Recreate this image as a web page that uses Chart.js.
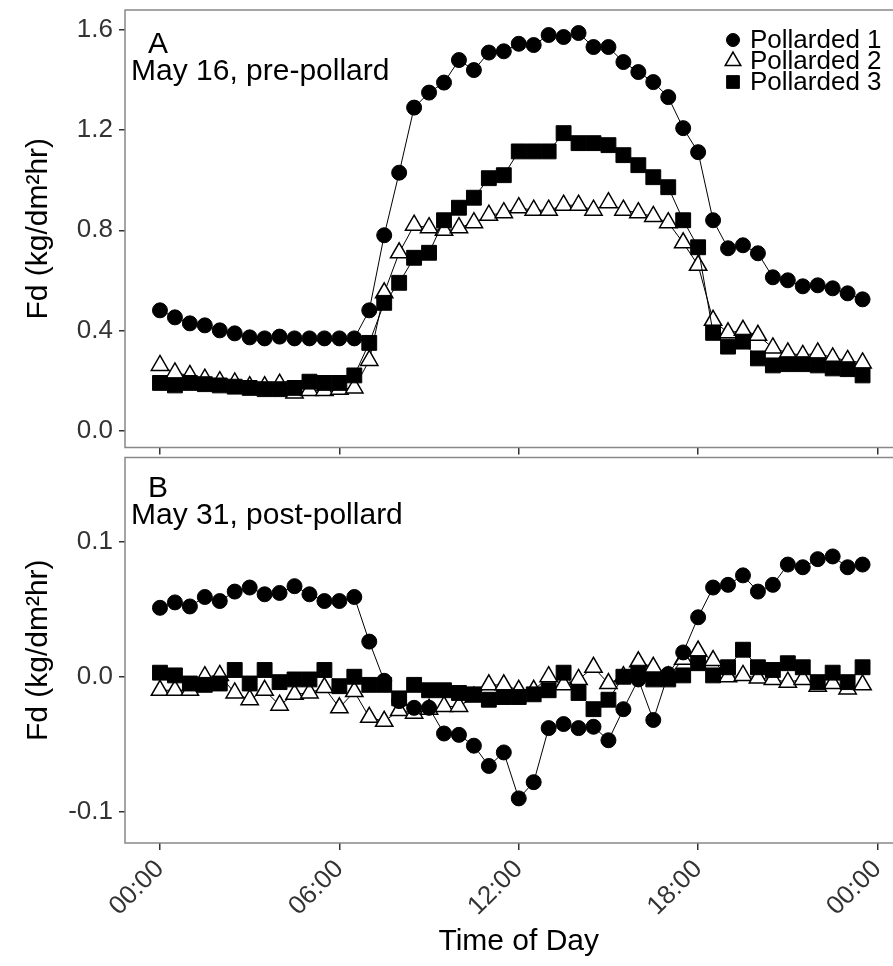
<!DOCTYPE html>
<html>
<head>
<meta charset="utf-8">
<script src="https://cdn.jsdelivr.net/npm/chart.js@4.4.1/dist/chart.umd.min.js"></script>
<style>
html, body { margin: 0; padding: 0; background: #fff; overflow: hidden; width: 893px; height: 966px; }
#chartA { position: absolute; left: 0; top: -2px; }
#chartB { position: absolute; left: 0; top: 446px; }
</style>
</head>
<body>
<canvas id="chartA" width="924" height="461"></canvas>
<canvas id="chartB" width="924" height="520"></canvas>
<script>
// half-hourly readings
var timeLabels = ['00:00','00:30','01:00','01:30','02:00','02:30','03:00','03:30',
    '04:00','04:30','05:00','05:30','06:00','06:30','07:00','07:30',
    '08:00','08:30','09:00','09:30','10:00','10:30','11:00','11:30',
    '12:00','12:30','13:00','13:30','14:00','14:30','15:00','15:30',
    '16:00','16:30','17:00','17:30','18:00','18:30','19:00','19:30',
    '20:00','20:30','21:00','21:30','22:00','22:30','23:00','23:30'];

var seriesNames = ['Pollarded 1', 'Pollarded 2', 'Pollarded 3'];

// Panel A - May 16, pre-pollard
var p1May16 = [0.48, 0.452, 0.428, 0.42, 0.40, 0.388, 0.372, 0.368, 0.375, 0.368, 0.368, 0.368, 0.368, 0.368,
    0.48, 0.78, 1.03, 1.29, 1.35, 1.39, 1.48, 1.44, 1.51, 1.515, 1.545,
    1.54, 1.58, 1.572, 1.588, 1.532, 1.532, 1.472, 1.432, 1.392, 1.332, 1.208, 1.112,
    0.84, 0.728, 0.74, 0.708, 0.612, 0.60, 0.576, 0.58, 0.568, 0.548, 0.524];
var p2May16 = [0.26, 0.23, 0.22, 0.205, 0.195, 0.19, 0.175, 0.175, 0.185, 0.15, 0.16, 0.16, 0.165, 0.17,
    0.28, 0.55, 0.71, 0.82, 0.81, 0.80, 0.81, 0.83, 0.86, 0.87, 0.89,
    0.88, 0.88, 0.90, 0.90, 0.88, 0.91, 0.88, 0.87, 0.855, 0.83, 0.75, 0.66,
    0.44, 0.39, 0.40, 0.38, 0.33, 0.31, 0.30, 0.31, 0.29, 0.28, 0.27];
var p3May16 = [0.19, 0.18, 0.19, 0.185, 0.18, 0.175, 0.17, 0.165, 0.165, 0.17, 0.195, 0.19, 0.19, 0.22,
    0.35, 0.51, 0.59, 0.69, 0.71, 0.84, 0.89, 0.93, 1.008, 1.02, 1.115,
    1.115, 1.115, 1.188, 1.148, 1.148, 1.14, 1.10, 1.06, 1.012, 0.972, 0.84, 0.732,
    0.39, 0.335, 0.355, 0.288, 0.26, 0.265, 0.265, 0.26, 0.248, 0.245, 0.22];

// Panel B - May 31, post-pollard
var p1May31 = [0.051, 0.055, 0.052, 0.059, 0.056, 0.063, 0.066, 0.061, 0.062, 0.067, 0.061, 0.056, 0.056, 0.059,
    0.026, -0.003, -0.018, -0.023, -0.023, -0.042, -0.043, -0.051, -0.066, -0.056, -0.09,
    -0.078, -0.038, -0.035, -0.038, -0.037, -0.047, -0.024, -0.002, -0.032, 0.002, 0.018, 0.044,
    0.066, 0.068, 0.075, 0.063, 0.068, 0.083, 0.081, 0.087, 0.089, 0.081, 0.083];
var p2May31 = [-0.01, -0.01, -0.01, 0.0, 0.001, -0.012, -0.017, -0.01, -0.021, -0.013, -0.012, -0.008, -0.023, -0.011,
    -0.03, -0.033, -0.025, -0.027, -0.024, -0.022, -0.022, -0.015, -0.006, -0.006, -0.01,
    -0.01, 0.0, -0.006, -0.002, 0.007, -0.005, 0.0, 0.011, 0.007, 0.0, 0.013, 0.019,
    0.012, 0.0, 0.001, -0.001, -0.002, -0.004, -0.002, -0.007, -0.005, -0.009, -0.006];
var p3May31 = [0.003, 0.001, -0.005, -0.006, -0.005, 0.005, -0.005, 0.005, -0.004, -0.002, -0.002, 0.005, -0.007, 0.0,
    -0.006, -0.006, -0.016, -0.006, -0.01, -0.01, -0.012, -0.013, -0.017, -0.015, -0.015,
    -0.013, -0.01, 0.003, -0.012, -0.024, -0.017, 0.0, 0.003, -0.002, -0.002, 0.001, 0.01,
    0.001, 0.007, 0.02, 0.007, 0.005, 0.01, 0.007, -0.004, 0.003, -0.004, 0.007];

// Axis ticks
var xTickHours = [0, 6, 12, 18, 24];
var xTickLabels = ['00:00', '06:00', '12:00', '18:00', '00:00'];
var yTicksA = [0, 0.4, 0.8, 1.2, 1.6];
var yTicksB = [-0.1, 0, 0.1];

var FONT = "'Liberation Sans', Arial, sans-serif";
Chart.defaults.font.family = FONT;

function toHours(label) {
    var parts = label.split(':');
    return parseInt(parts[0]) + parseInt(parts[1]) / 60;
}

// marker look for each series
var markers = [
    { style: 'circle', radius: 7.5, fill: '#000', border: 1, order: 0 },
    { style: 'triangle', radius: 10, fill: '#fff', border: 1.5, order: 2 },
    { style: 'rect', radius: 10.5, fill: '#000', border: 1, order: 1 }
];

function makeDatasets(seriesList) {
    return seriesList.map(function(values, i) {
        var m = markers[i];
        return {
            label: seriesNames[i],
            data: values.map(function(v, k) { return { x: toHours(timeLabels[k]), y: v }; }),
            borderColor: '#000',
            borderWidth: 1,
            tension: 0,
            pointStyle: m.style,
            pointRadius: m.radius,
            pointBackgroundColor: m.fill,
            pointBorderColor: '#000',
            pointBorderWidth: m.border,
            order: m.order
        };
    });
}

// grey box round the plot area
var boxPlugin = {
    id: 'box',
    afterDraw: function(chart) {
        var a = chart.chartArea, ctx = chart.ctx;
        ctx.save();
        ctx.strokeStyle = '#888';
        ctx.lineWidth = 1.5;
        ctx.strokeRect(a.left, a.top, a.right - a.left, a.bottom - a.top);
        ctx.restore();
    }
};

// panel letter and caption
function captionPlugin(letter, caption, top) {
    return {
        id: 'caption',
        afterDraw: function(chart) {
            var ctx = chart.ctx;
            ctx.save();
            ctx.fillStyle = '#000';
            ctx.textBaseline = 'alphabetic';
            ctx.textAlign = 'left';
            ctx.font = '30px ' + FONT;
            ctx.fillText(letter, 148, top);
            ctx.fillText(caption, 131, top + 27);
            ctx.restore();
        }
    };
}

var legendPlugin = {
    id: 'ownLegend',
    afterDraw: function(chart) {
        var ctx = chart.ctx;
        var sizes = [6.5, 9, 9];
        ctx.save();
        chart.data.datasets.forEach(function(ds, i) {
            var y = 42 + i * 21;
            ctx.fillStyle = ds.pointBackgroundColor;
            ctx.strokeStyle = '#000';
            ctx.lineWidth = ds.pointBorderWidth;
            Chart.helpers.drawPoint(ctx, { pointStyle: ds.pointStyle, radius: sizes[i], borderWidth: ds.pointBorderWidth, rotation: 0 }, 733, y);
            ctx.fillStyle = '#000';
            ctx.font = '26px ' + FONT;
            ctx.textAlign = 'left';
            ctx.textBaseline = 'middle';
            ctx.fillText(ds.label, 750, y + 1);
        });
        ctx.restore();
    }
};

function yScale(min, max, ticks) {
    return {
        type: 'linear',
        min: min,
        max: max,
        afterBuildTicks: function(s) { s.ticks = ticks.map(function(v) { return { value: v }; }); },
        afterFit: function(s) { s.width = 125; s.paddingTop = 0; s.paddingBottom = 0; },
        ticks: {
            callback: function(v) { return v.toFixed(1); },
            font: { size: 26 },
            color: '#333',
            padding: 6
        },
        grid: { drawOnChartArea: false, drawTicks: true, tickLength: 6, color: '#333', lineWidth: 1.5 },
        border: { display: false },
        title: { display: true, text: 'Fd (kg/dm\u00b2hr)', font: { size: 30 }, color: '#000', padding: { top: 21, bottom: 0 } }
    };
}

function xScale(showLabels, height) {
    return {
        type: 'linear',
        min: -1.17,
        max: 25.17,
        afterBuildTicks: function(s) { s.ticks = xTickHours.map(function(v) { return { value: v }; }); },
        afterFit: function(s) { s.height = height; s.paddingLeft = 0; s.paddingRight = 0; },
        ticks: {
            display: showLabels,
            callback: function(v, i) { return xTickLabels[i]; },
            maxRotation: 45,
            minRotation: 45,
            font: { size: 26 },
            color: '#333',
            padding: 4
        },
        grid: { drawOnChartArea: false, drawTicks: true, tickLength: 7, color: '#333', lineWidth: 1.5 },
        border: { display: false },
        title: { display: showLabels, text: 'Time of Day', font: { size: 30 }, color: '#000', padding: { top: 0, bottom: 6 } }
    };
}

var common = {
    responsive: false,
    animation: false,
    events: [],
    plugins: { legend: { display: false }, tooltip: { enabled: false } }
};

new Chart(document.getElementById('chartA'), {
    type: 'line',
    data: { datasets: makeDatasets([p1May16, p2May16, p3May16]) },
    options: Object.assign({}, common, {
        layout: { padding: { top: 12, right: 0, left: 0, bottom: 0 } },
        scales: { x: xScale(false, 10), y: yScale(-0.068, 1.68, yTicksA) }
    }),
    plugins: [boxPlugin, captionPlugin('A', 'May 16, pre-pollard', 55), legendPlugin]
});

new Chart(document.getElementById('chartB'), {
    type: 'line',
    data: { datasets: makeDatasets([p1May31, p2May31, p3May31]) },
    options: Object.assign({}, common, {
        layout: { padding: { top: 11.5, right: 0, left: 0, bottom: 0 } },
        scales: { x: xScale(true, 123), y: yScale(-0.123, 0.1622, yTicksB) }
    }),
    plugins: [boxPlugin, captionPlugin('B', 'May 31, post-pollard', 51)]
});
</script>
</body>
</html>
